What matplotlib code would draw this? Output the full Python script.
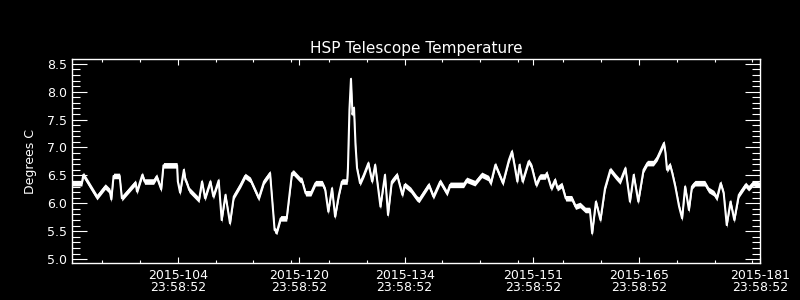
import matplotlib
matplotlib.use("Agg")
import matplotlib.pyplot as plt
import numpy as np

title = "HSP Telescope Temperature"
ylabel = "Degrees C"

# Day of year 2015 (fractional) and temperature (deg C)
days = [90.0, 91.3, 91.5, 92.0, 93.3, 94.4, 95.0, 95.2, 95.5, 96.3, 96.6, 98.4, 98.6, 99.3,
        99.6, 100.8, 101.2, 101.8, 102.1, 103.9, 104.0, 104.3, 104.8, 105.0, 105.2, 105.5,
        106.8, 107.2, 107.6, 108.3, 108.7, 109.4, 109.8, 110.3, 110.9, 111.4, 112.3, 112.9,
        113.6, 114.7, 115.4, 116.2, 116.8, 117.1, 117.6, 118.4, 119.1, 119.3, 120.2, 120.4,
        120.9, 121.6, 122.2, 123.1, 123.5, 123.9, 124.4, 124.8, 125.3, 125.7, 126.4, 126.5,
        126.7, 126.9, 127.1, 127.3, 127.5, 127.7, 128.1, 128.6, 129.2, 129.7, 130.1, 130.8,
        131.4, 131.8, 132.3, 133.0, 133.7, 134.0, 134.8, 135.6, 135.9, 137.2, 137.8, 138.7,
        139.6, 140.0, 141.8, 142.2, 143.3, 144.2, 145.1, 145.4, 146.0, 147.0, 147.8, 148.2,
        148.6, 148.9, 149.2, 149.6, 150.4, 150.8, 151.4, 151.9, 152.6, 152.8, 153.4, 153.9,
        154.2, 154.8, 155.3, 156.1, 156.6, 157.2, 157.9, 158.5, 158.8, 159.3, 159.9, 160.5,
        161.2, 161.9, 162.5, 163.2, 163.8, 164.3, 164.9, 165.6, 166.1, 166.9, 167.4, 168.0,
        168.3, 168.5, 168.7, 169.1, 169.4, 169.8, 170.3, 170.7, 171.1, 171.6, 172.0, 172.4,
        173.7, 174.2, 174.9, 175.3, 175.8, 176.2, 176.6, 177.1, 177.6, 178.2, 179.1, 179.5,
        180.1, 181.0]
temps = [6.36, 6.36, 6.51, 6.40, 6.11, 6.30, 6.22, 6.07, 6.49, 6.49, 6.09, 6.37, 6.21, 6.51,
         6.39, 6.39, 6.48, 6.25, 6.68, 6.68, 6.39, 6.19, 6.60, 6.42, 6.36, 6.24,
         6.06, 6.39, 6.09, 6.39, 6.12, 6.41, 5.70, 6.15, 5.64, 6.12, 6.33, 6.49,
         6.42, 6.09, 6.39, 6.54, 5.52, 5.49, 5.73, 5.73, 6.54, 6.55, 6.42, 6.42,
         6.18, 6.18, 6.36, 6.36, 6.24, 5.85, 6.27, 5.76, 6.15, 6.39, 6.39, 6.63,
         7.68, 8.23, 7.59, 7.71, 7.05, 6.63, 6.36, 6.51, 6.72, 6.39, 6.69, 5.94,
         6.51, 5.79, 6.39, 6.51, 6.15, 6.33, 6.24, 6.09, 6.06, 6.33, 6.12, 6.39,
         6.18, 6.33, 6.33, 6.42, 6.36, 6.51, 6.45, 6.36, 6.69, 6.36, 6.78, 6.93,
         6.63, 6.39, 6.69, 6.39, 6.75, 6.66, 6.33, 6.48, 6.48, 6.54, 6.27, 6.42,
         6.27, 6.33, 6.09, 6.09, 5.94, 5.97, 5.88, 5.88, 5.46, 6.03, 5.70, 6.27,
         6.60, 6.48, 6.39, 6.63, 6.03, 6.51, 6.03, 6.60, 6.72, 6.72, 6.81, 6.99,
         7.08, 6.90, 6.60, 6.69, 6.54, 6.30, 5.94, 5.73, 6.30, 5.88, 6.30, 6.36,
         6.36, 6.24, 6.18, 6.09, 6.36, 6.18, 5.61, 6.03, 5.70, 6.15, 6.33, 6.27,
         6.36, 6.33]

major_days = [104, 120, 134, 151, 165, 181]
major_labels = ["2015-104\n23:58:52", "2015-120\n23:58:52", "2015-134\n23:58:52",
                "2015-151\n23:58:52", "2015-165\n23:58:52", "2015-181\n23:58:52"]
minor_days = [94, 99, 109, 114, 119, 124, 129, 139, 144, 149, 155, 160, 170, 175, 180]
yticks = [5.0, 5.5, 6.0, 6.5, 7.0, 7.5, 8.0, 8.5]

plt.rcParams['font.family'] = ['DejaVu Sans']
fig = plt.figure(figsize=(8, 3), dpi=100, facecolor='black')
ax = fig.add_axes([0.09, 0.1233, 0.86, 0.679], facecolor='black')

t = np.array(days)
v = np.array(temps)
ax.fill_between(t, v - 0.05, v + 0.05, color='white', linewidth=0)
ax.plot(t, v, color='white', linewidth=1.5)

ax.set_xlim(90, 181)
ax.set_ylim(4.93, 8.58)

for s in ax.spines.values():
    s.set_color('white')
    s.set_linewidth(1.0)

ax.set_xticks(major_days)
ax.set_xticklabels(major_labels, linespacing=0.95)
ax.set_xticks(minor_days, minor=True)
ax.set_yticks(yticks)
ax.set_yticklabels([f"{y:.1f}" for y in yticks])
ax.set_yticks(np.arange(5.0, 8.55, 0.1), minor=True)

ax.tick_params(axis='x', which='major', direction='in', length=4.3, width=0.8,
               colors='white', top=True, labelsize=9, pad=4.3)
ax.tick_params(axis='x', which='minor', direction='in', length=2.5, width=0.8,
               colors='white', top=True)
ax.tick_params(axis='y', which='major', direction='in', length=10.8, width=0.8,
               colors='white', right=True, labelsize=9, pad=3.6)
ax.tick_params(axis='y', which='minor', direction='in', length=5.8, width=0.8,
               colors='white', right=True)

ax.set_title(title, color='white', fontsize=11, pad=4.8)
ax.set_ylabel(ylabel, color='white', fontsize=9)
ax.yaxis.set_label_coords(-0.051, 0.5)

fig.savefig("out.png", dpi=100, facecolor='black')
